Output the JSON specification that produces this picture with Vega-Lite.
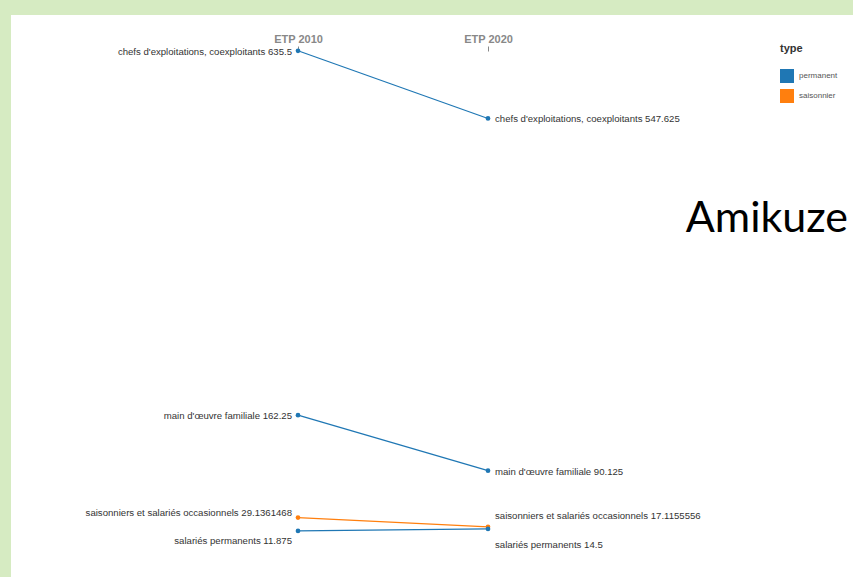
{
  "$schema": "https://vega.github.io/schema/vega-lite/v6.json",
  "autosize": {"type": "none"},
  "width": 842,
  "height": 562,
  "padding": {"left": 11, "top": 15, "right": 0, "bottom": 0},
  "background": "#d6ebc2",
  "title": {
    "text": "Amikuze",
    "anchor": "end",
    "frame": "group",
    "orient": "top",
    "offset": 0,
    "baseline": "alphabetic",
    "dy": 260,
    "dx": -5,
    "font": "Lato",
    "fontSize": 43,
    "fontWeight": "normal",
    "color": "#000000"
  },
  "config": {
    "view": {"fill": "white", "stroke": null},
    "font": "Liberation Sans"
  },
  "data": {
    "values": [
      {"label": "chefs d'exploitations, coexploitants", "year": "ETP 2010", "value": 635.5, "type": "permanent"},
      {"label": "chefs d'exploitations, coexploitants", "year": "ETP 2020", "value": 547.625, "type": "permanent"},
      {"label": "main d'œuvre familiale", "year": "ETP 2010", "value": 162.25, "type": "permanent"},
      {"label": "main d'œuvre familiale", "year": "ETP 2020", "value": 90.125, "type": "permanent"},
      {"label": "saisonniers et salariés occasionnels", "year": "ETP 2010", "value": 29.1361468, "type": "saisonnier"},
      {"label": "saisonniers et salariés occasionnels", "year": "ETP 2020", "value": 17.1155556, "type": "saisonnier"},
      {"label": "salariés permanents", "year": "ETP 2010", "value": 11.875, "type": "permanent"},
      {"label": "salariés permanents", "year": "ETP 2020", "value": 14.5, "type": "permanent"}
    ]
  },
  "transform": [
    {"calculate": "datum.label + ' ' + datum.value", "as": "txt"}
  ],
  "encoding": {
    "x": {
      "field": "year",
      "type": "ordinal",
      "sort": ["ETP 2010", "ETP 2020"],
      "scale": {"type": "point", "range": [287, 477], "padding": 0},
      "axis": {
        "orient": "top",
        "offset": -36,
        "title": null,
        "domain": false,
        "grid": false,
        "ticks": true,
        "tickSize": 5,
        "tickColor": "#888888",
        "labelAngle": 0,
        "labelColor": "#888888",
        "labelFontWeight": "bold",
        "labelFontSize": 11,
        "labelPadding": 2
      }
    },
    "y": {
      "field": "value",
      "type": "quantitative",
      "scale": {"domain": [-48, 682], "nice": false, "zero": false},
      "axis": null
    },
    "color": {
      "field": "type",
      "type": "nominal",
      "scale": {"domain": ["permanent", "saisonnier"], "range": ["#1f77b4", "#ff7f0e"]},
      "legend": {
        "orient": "none",
        "legendX": 769,
        "legendY": 28,
        "title": "type",
        "titleFontSize": 11,
        "titleFontWeight": "bold",
        "titleColor": "#333333",
        "titlePadding": 15,
        "symbolType": "square",
        "symbolSize": 196,
        "symbolStrokeWidth": 0,
        "symbolOpacity": 1,
        "labelFontSize": 8,
        "labelColor": "#555555",
        "labelOffset": 5,
        "rowPadding": 6
      }
    }
  },
  "layer": [
    {
      "mark": {"type": "line", "strokeWidth": 1.2},
      "encoding": {
        "detail": {"field": "label"}
      }
    },
    {
      "mark": {"type": "point", "filled": true, "size": 22, "opacity": 1}
    },
    {
      "transform": [{"filter": "datum.year == 'ETP 2010' && datum.value > 100"}],
      "mark": {"type": "text", "align": "right", "baseline": "middle", "dx": -6, "dy": 1, "fontSize": 9.6},
      "encoding": {"text": {"field": "txt"}, "color": {"value": "#333333"}}
    },
    {
      "transform": [{"filter": "datum.year == 'ETP 2010' && datum.type == 'saisonnier'"}],
      "mark": {"type": "text", "align": "right", "baseline": "middle", "dx": -6, "dy": -5, "fontSize": 9.6},
      "encoding": {"text": {"field": "txt"}, "color": {"value": "#333333"}}
    },
    {
      "transform": [{"filter": "datum.year == 'ETP 2010' && datum.label == 'salariés permanents'"}],
      "mark": {"type": "text", "align": "right", "baseline": "middle", "dx": -6, "dy": 10, "fontSize": 9.6},
      "encoding": {"text": {"field": "txt"}, "color": {"value": "#333333"}}
    },
    {
      "transform": [{"filter": "datum.year == 'ETP 2020' && datum.value > 50"}],
      "mark": {"type": "text", "align": "left", "baseline": "middle", "dx": 7, "dy": 1, "fontSize": 9.6},
      "encoding": {"text": {"field": "txt"}, "color": {"value": "#333333"}}
    },
    {
      "transform": [{"filter": "datum.year == 'ETP 2020' && datum.type == 'saisonnier'"}],
      "mark": {"type": "text", "align": "left", "baseline": "middle", "dx": 7, "dy": -11, "fontSize": 9.6},
      "encoding": {"text": {"field": "txt"}, "color": {"value": "#333333"}}
    },
    {
      "transform": [{"filter": "datum.year == 'ETP 2020' && datum.label == 'salariés permanents'"}],
      "mark": {"type": "text", "align": "left", "baseline": "middle", "dx": 7, "dy": 16, "fontSize": 9.6},
      "encoding": {"text": {"field": "txt"}, "color": {"value": "#333333"}}
    }
  ]
}
